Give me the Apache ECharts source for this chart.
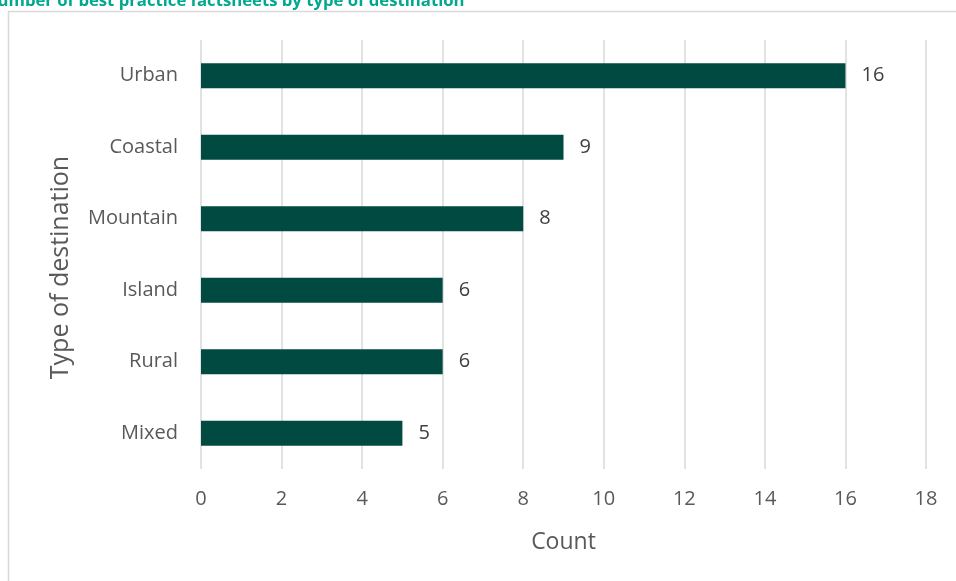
<!DOCTYPE html>
<html><head><meta charset="utf-8">
<script src="https://cdn.jsdelivr.net/npm/echarts@6/dist/echarts.min.js"></script>
<style>html,body{margin:0;padding:0;background:#fff}#c{width:956px;height:581px}</style>
</head><body><div id="c"></div>
<script>
const categories = ['Mixed', 'Rural', 'Island', 'Mountain', 'Coastal', 'Urban'];
const counts = [5, 6, 6, 8, 9, 16];
const xTicks = [0, 2, 4, 6, 8, 10, 12, 14, 16, 18];
const titleText = 'Number of best practice factsheets by type of destination';
const xAxisName = 'Count';
const yAxisName = 'Type of destination';

const chart = echarts.init(document.getElementById('c'));
const font = 'Open Sans, Noto Sans, sans-serif';
chart.setOption({
  animation: false,
  title: {
    text: titleText, left: -21, top: -12,
    textStyle: {color: '#00A88F', fontSize: 16.7, fontWeight: 'bold', fontFamily: font}
  },
  graphic: [{
    type: 'rect', shape: {x: 8.5, y: 11.5, width: 960, height: 600},
    style: {fill: null, stroke: '#d9d9d9', lineWidth: 1.5}, silent: true, z: -1
  }],
  grid: {left: 201, right: 30, top: 40, bottom: 112, containLabel: false},
  xAxis: {
    type: 'value', min: 0, max: 18, interval: 2,
    axisLine: {show: false}, axisTick: {show: false},
    splitLine: {show: true, lineStyle: {color: '#d9d9d9', width: 1.5}},
    axisLabel: {color: '#595959', fontSize: 20, fontFamily: font, margin: 20,
      formatter: v => xTicks.includes(v) ? String(v) : ''},
    name: xAxisName, nameLocation: 'middle', nameGap: 62,
    nameTextStyle: {color: '#595959', fontSize: 23, fontFamily: font}
  },
  yAxis: {
    type: 'category', data: categories,
    axisLine: {show: false}, axisTick: {show: false},
    axisLabel: {color: '#595959', fontSize: 20, fontFamily: font, margin: 23},
    name: yAxisName, nameLocation: 'middle', nameGap: 128, nameRotate: 90,
    nameTextStyle: {color: '#595959', fontSize: 25, fontFamily: font, padding: [0, 26, 0, 0]}
  },
  series: [{
    type: 'bar', data: counts, barWidth: '35%',
    itemStyle: {color: '#004A42'},
    label: {show: true, position: 'right', distance: 16, color: '#404040', fontSize: 20, fontFamily: font}
  }]
});
</script></body></html>
